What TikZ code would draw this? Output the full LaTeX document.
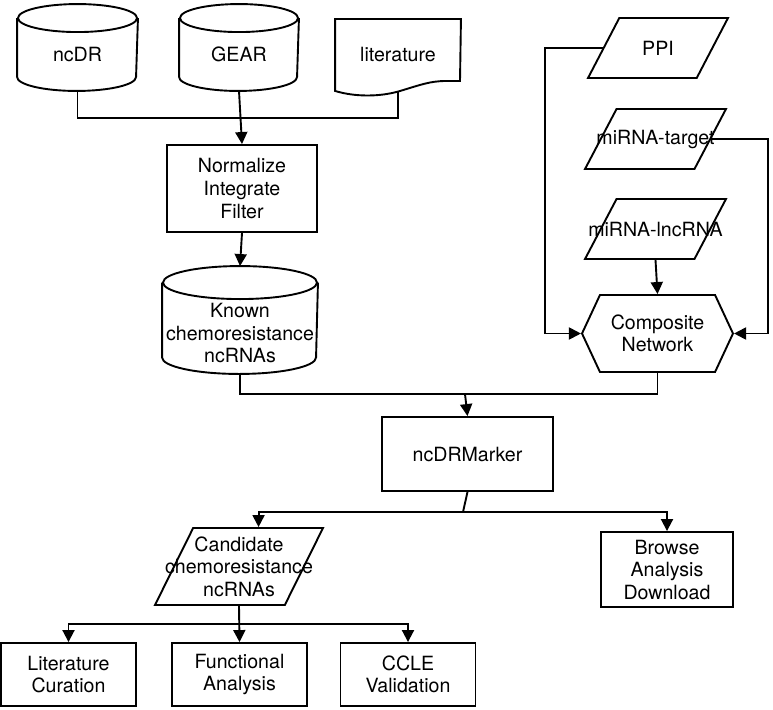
\documentclass[tikz,border=0pt]{standalone}
\usepackage{fontspec}
\setmainfont{TeX Gyre Heros}
\usetikzlibrary{arrows.meta,shapes.geometric,shapes.symbols}

\tikzset{
  dbase/.style={rectangle, inner sep=0pt},
  proc/.style={rectangle, draw, align=center, inner sep=0pt},
  iodata/.style={trapezium, draw, trapezium left angle=68, trapezium right angle=112,
                 trapezium stretches=true, inner sep=2pt},
  hexa/.style={signal, draw, signal to=west and east, signal pointer angle=130,
               align=center, inner sep=2pt},
}
% outline of a database drum round node #1 (x radius #2, y radius #3)
\newcommand{\drumline}[3]{%
  \draw ([yshift=-#3]#1.north west) -- ([yshift=#3]#1.south west)
    arc[start angle=180, end angle=360, x radius=#2, y radius=#3]
    -- ([yshift=-#3]#1.north east);
  \draw ([yshift=-#3]#1.north) ellipse [x radius=#2, y radius=#3];}

\begin{document}
\begin{tikzpicture}[x=1pt, y=-1pt, line width=1.9pt,
  font=\fontsize{19.6}{22.5}\selectfont, every label/.style={align=center},
  >={Triangle[length=12pt,width=12pt]}]
  \useasboundingbox (0,0) rectangle (773,709);

  % sources
  \node[dbase, minimum width=119pt, minimum height=85pt,
        label={[yshift=-7pt]center:ncDR}] (ncdr) at (77.5,47.5) {};
  \node[dbase, minimum width=118pt, minimum height=85pt,
        label={[yshift=-7pt]center:GEAR}] (gear) at (239,47.5) {};
  \drumline{ncdr}{59.5pt}{14pt}
  \drumline{gear}{59pt}{14pt}
  \node[minimum width=124pt, minimum height=70pt, inner sep=0pt] (lit) at (398,55) {literature};
  \draw (lit.south west) -- (lit.north west) -- (lit.north east) -- (460,81) -- (446,81)
    .. controls (430,81) and (420,85) .. (400,91)
    .. controls (380,97) and (355,97) .. (lit.south west) -- cycle;

  \node[proc, minimum width=150pt, minimum height=87pt] (norm) at (242,188.5)
    {Normalize\\Integrate\\Filter};
  \node[dbase, minimum width=154pt, minimum height=106pt,
        label={[yshift=-13pt]center:Known\\chemoresistance\\ncRNAs}] (known) at (240,320) {};
  \drumline{known}{77pt}{16.5pt}

  % network
  \node[iodata, minimum width=140pt, minimum height=60pt, label=center:PPI] (ppi) at (658,48) {};
  \node[iodata, minimum width=141pt, minimum height=60pt, label=center:miRNA-target] (mitarget) at (655.5,139) {};
  \node[iodata, minimum width=141pt, minimum height=60pt, label=center:miRNA-lncRNA] (milnc) at (655.5,229) {};
  \node[hexa, minimum width=151pt, minimum height=77pt] (comp) at (657.5,333.5) {Composite\\Network};

  \node[proc, minimum width=171pt, minimum height=74pt] (marker) at (467.5,454) {ncDRMarker};
  \node[iodata, trapezium left angle=67.4, trapezium right angle=112.6, minimum width=168pt, minimum height=77pt,
        label=center:Candidate\\chemoresistance\\ncRNAs] (cand) at (239,566.5) {};
  \node[proc, minimum width=132pt, minimum height=75pt] (browse) at (667,569.5) {Browse\\Analysis\\Download};

  \node[proc, minimum width=135pt, minimum height=63pt] (litcur) at (68.5,674.5) {Literature\\Curation};
  \node[proc, minimum width=135pt, minimum height=63pt] (func) at (239.5,674.5) {Functional\\Analysis};
  \node[proc, minimum width=135pt, minimum height=63pt] (ccle) at (408,674.5) {CCLE\\Validation};

  \coordinate (j1) at (240,118);
  \coordinate (j2) at (465,394);
  \coordinate (j3) at (463,512);
  \coordinate (j4) at (239,624);

  \draw (ncdr.south) |- (j1) -| (lit.south);
  \draw[->] (gear.south) -- (norm.north);
  \draw[->] (norm.south) -- (known.north);

  \draw[->] (ppi.left side) -| ([xshift=-36pt]comp.west) -- (comp.west);
  \draw[->] (mitarget.right side) -| ([xshift=34pt]comp.east) -- (comp.east);
  \draw[->] (milnc.south) -- (comp.north);

  \draw (known.south) |- (j2) -| (comp.south);
  \draw[->] (j2) -- (marker.north);
  \draw (marker.south) -- (j3);
  \draw[->] (j3) -| (cand.top side);
  \draw[->] (j3) -| (browse.north);

  \draw[->] (cand.south) -- (func.north);
  \draw[->] (j4) -| (litcur.north);
  \draw[->] (j4) -| (ccle.north);
\end{tikzpicture}
\end{document}
